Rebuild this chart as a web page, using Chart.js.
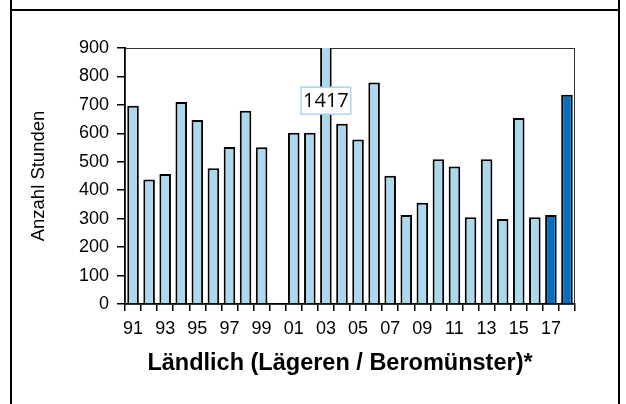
<!DOCTYPE html>
<html>
<head>
<meta charset="utf-8">
<script src="https://cdn.jsdelivr.net/npm/chart.js@4.4.1/dist/chart.umd.min.js"></script>
<style>
    html, body { margin: 0; padding: 0; background: #fff; }
    #wrap { position: relative; width: 626px; height: 404px; overflow: hidden; }
    #chartBox { position: absolute; left: 0; top: 0; width: 626px; height: 404px; }
    .frame { position: absolute; border: 2px solid #000; box-sizing: border-box; pointer-events: none; }
</style>
</head>
<body>
<div id="wrap">
    <div id="chartBox"><canvas id="barChart"></canvas></div>
    <div class="frame" style="left:10px; top:-30px; width:610px; height:41px;"></div>
    <div class="frame" style="left:10px; top:9px; width:610px; height:420px;"></div>
</div>
<script>
const years = ['91', '92', '93', '94', '95', '96', '97', '98', '99', '00',
               '01', '02', '03', '04', '05', '06', '07', '08', '09', '10',
               '11', '12', '13', '14', '15', '16', '17', '18'];
const hours = [697, 438, 457, 710, 647, 477, 552, 679, 551, null,
               602, 602, 1417, 634, 578, 779, 451, 313, 356, 509,
               483, 305, 509, 299, 654, 305, 313, 736];
const yTicks = [0, 100, 200, 300, 400, 500, 600, 700, 800, 900];
const yTitle = 'Anzahl Stunden';
const xTitle = 'Ländlich (Lägeren / Beromünster)*';

const lightBlue = '#ADD8EC';
const darkBlue = '#0070C0';
const barColors = years.map((y, i) => i >= years.length - 2 ? darkBlue : lightBlue);

Chart.defaults.font.family = '"Liberation Sans", Arial, sans-serif';
Chart.defaults.color = '#000';

// thin frame round the plot area (top + right side)
const plotFrame = {
    id: 'plotFrame',
    beforeDatasetsDraw(chart) {
        const { ctx, chartArea: a } = chart;
        ctx.save();
        ctx.strokeStyle = '#333';
        ctx.lineWidth = 1;
        ctx.strokeRect(a.left + 0.5, a.top + 0.5, a.right - a.left - 1, a.bottom - a.top);
        ctx.restore();
    }
};

// boxed value for the bar that runs off the top of the scale
const overflowLabel = {
    id: 'overflowLabel',
    afterDatasetsDraw(chart) {
        const { ctx } = chart;
        const yScale = chart.scales.y;
        const bars = chart.getDatasetMeta(0).data;
        hours.forEach((v, i) => {
            if (v === null || v <= yScale.max) return;
            const x = bars[i].x;
            const y = yScale.getPixelForValue(715);
            ctx.save();
            ctx.font = '20px "Open Sans", sans-serif';
            const w = ctx.measureText(String(v)).width + 4;
            const h = 27;
            ctx.fillStyle = '#fff';
            ctx.fillRect(x - w / 2, y - h / 2, w, h);
            ctx.strokeStyle = '#A9D4EE';
            ctx.lineWidth = 1.5;
            ctx.strokeRect(x - w / 2, y - h / 2, w, h);
            ctx.fillStyle = '#000';
            ctx.textAlign = 'center';
            ctx.textBaseline = 'middle';
            ctx.fillText(String(v), x, y + 1);
            ctx.restore();
        });
    }
};

// x title sits a bit left of the plot centre in the original
const bottomTitle = {
    id: 'bottomTitle',
    afterDraw(chart) {
        const { ctx } = chart;
        ctx.save();
        ctx.font = 'bold 23.5px "Liberation Sans", Arial, sans-serif';
        ctx.fillStyle = '#000';
        ctx.textAlign = 'center';
        ctx.textBaseline = 'middle';
        ctx.fillText(xTitle, 340, 364);
        ctx.restore();
    }
};

const ctx = document.getElementById('barChart').getContext('2d');
new Chart(ctx, {
    type: 'bar',
    data: {
        labels: years,
        datasets: [{
            data: hours,
            backgroundColor: barColors,
            borderColor: '#000',
            borderWidth: 2,
            barPercentage: 0.72,
            categoryPercentage: 1.0,
            clip: 0
        }]
    },
    options: {
        responsive: true,
        maintainAspectRatio: false,
        animation: false,
        layout: { padding: { left: 0, top: 48, right: 51, bottom: 0 } },
        plugins: {
            legend: { display: false },
            tooltip: { enabled: false }
        },
        scales: {
            x: {
                afterFit: s => { s.height = 100; },
                grid: { display: true, drawOnChartArea: false, tickLength: 7, color: '#000', lineWidth: 1.5 },
                border: { display: true, color: '#000', width: 2 },
                ticks: {
                    autoSkip: false,
                    maxRotation: 0,
                    padding: 7,
                    font: { size: 18 },
                    callback: (val, i) => i % 2 === 0 ? years[i] : ''
                }
            },
            y: {
                min: 0,
                max: 900,
                afterFit: s => { s.width = 125; },
                afterBuildTicks: s => { s.ticks = yTicks.map(v => ({ value: v })); },
                grid: { display: true, drawOnChartArea: false, tickLength: 8, color: '#000', lineWidth: 1.5 },
                border: { display: true, color: '#000', width: 2 },
                ticks: { padding: 8, font: { size: 18 } },
                title: {
                    display: true,
                    text: yTitle,
                    font: { size: 18.5 },
                    padding: { top: 28, bottom: 0 }
                }
            }
        }
    },
    plugins: [plotFrame, overflowLabel, bottomTitle]
});
</script>
</body>
</html>
